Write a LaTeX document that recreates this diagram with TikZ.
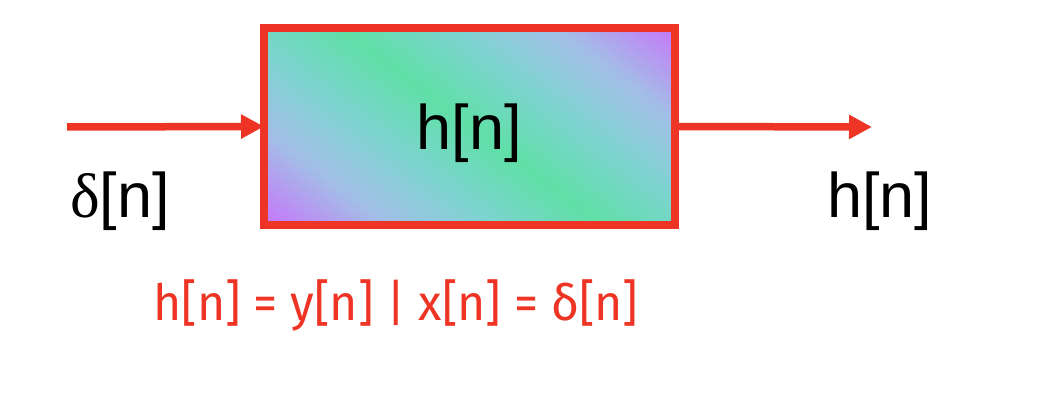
\documentclass[tikz,border=0pt]{standalone}
\usepackage{fontspec}
\setmainfont{Liberation Sans}
\newfontfamily\serifgr{Liberation Serif}
\newfontfamily\redfont{Fira Sans}
\usetikzlibrary{arrows.meta}
\definecolor{sigred}{HTML}{EE3424}
\definecolor{cA}{HTML}{5FDFA6}
\definecolor{cB}{HTML}{7CD4D0}
\definecolor{cC}{HTML}{A2BEE6}
\definecolor{cD}{HTML}{C27EF8}
\tikzset{
  sigline/.style={draw=sigred, line width=7.5pt, -{Triangle[length=23pt,width=23pt]}},
  biglabel/.style={font=\fontsize{63}{70}\selectfont, text=black, inner sep=0pt, anchor=base},
  sysbox/.style={draw=sigred, line width=8pt, minimum width=411pt, minimum height=197pt, inner sep=0pt, outer sep=0pt},
  eqlabel/.style={font=\redfont\fontsize{50}{56}\selectfont, text=sigred, inner sep=0pt, anchor=base}
}
\begin{document}
\begin{tikzpicture}[x=1pt,y=1pt]
\useasboundingbox (0,0) rectangle (1046,402);
% gradient fill of the box
\begin{scope}
  \clip (264,177) rectangle (675,374);
  \begin{scope}[shift={(471,276)}, rotate=52.9]
    \foreach \t in {-270,-267,...,270} {
      \pgfmathsetmacro{\u}{min(abs(\t+1.5)/192,1)*3}
      \pgfmathtruncatemacro{\seg}{min(floor(\u),2)}
      \pgfmathtruncatemacro{\f}{100*(\u-\seg)}
      \ifcase\seg \colorlet{sc}{cB!\f!cA}\or \colorlet{sc}{cC!\f!cB}\else \colorlet{sc}{cD!\f!cC}\fi
      \fill[sc] (\t,-500) rectangle (\t+3.3,500);
    }
  \end{scope}
\end{scope}
\node[sysbox] (box) at (469.5,275.5) {};
\node[biglabel] (boxlabel) at (469,252) {h[n]};
\coordinate (inStart) at (67,275);
\coordinate (outEnd) at (872,275);
\draw[sigline] (inStart) -- (box.west);
\draw[sigline] (box.east) -- (outEnd);
\node[biglabel, anchor=base west] (inlabel) at (70,184) {{\serifgr δ}[n]};
\node[biglabel, anchor=base west] (outlabel) at (827,185) {h[n]};
\node[eqlabel, anchor=base west] (eq) at (153,82) {\scalebox{0.965}[1]{h[n] = y[n] | x[n] = δ[n]}};
\end{tikzpicture}
\end{document}
